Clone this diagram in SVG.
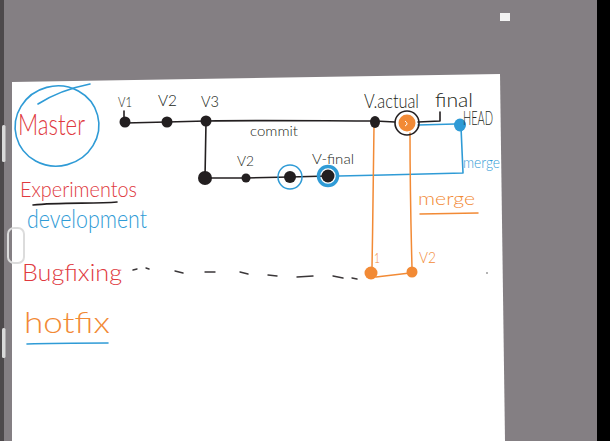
<svg xmlns="http://www.w3.org/2000/svg" width="610" height="441" viewBox="0 0 610 441">
<style>
.ink{fill:none;stroke:#231f20;stroke-width:1.6;stroke-linecap:round;stroke-linejoin:round}
.blue{fill:none;stroke:#2f9bd6;stroke-width:1.6;stroke-linecap:round;stroke-linejoin:round}
.orng{fill:none;stroke:#f28a35;stroke-width:1.5;stroke-linecap:round;stroke-linejoin:round}
.dot{fill:#231f20}
.t{font-family:"Lato","Liberation Sans",Arial,sans-serif;font-weight:300}
.tk{fill:#231f20}
.tr{fill:#e0393e}
.tb{fill:#2f9bd6}
.to{fill:#f28a35}
</style>
<!-- background -->
<rect x="0" y="0" width="610" height="441" fill="#847f83"/>
<rect x="0" y="0" width="4" height="441" fill="#4d494b"/>
<rect x="597" y="0" width="13" height="441" fill="#000"/>
<rect x="500" y="13" width="10" height="8" fill="#f2f2f2"/>
<polygon points="12,82 500,74 505,441 12,441" fill="#ffffff"/>
<rect x="2" y="125" width="3.5" height="37" rx="1.5" fill="#d9d9d9"/>
<rect x="2" y="328" width="3.5" height="30" rx="1.5" fill="#d9d9d9"/>
<rect x="8" y="228" width="16" height="35" rx="6" fill="none" stroke="#dcdcdc" stroke-width="2"/>

<!-- left labels -->
<g id="label-master">
<ellipse class="blue" cx="57" cy="126" rx="42" ry="40" transform="rotate(-15 57 126)"/>
<path class="blue" d="M38,104 C52,95 70,88 90,84"/>
<text class="t tr" x="18" y="135" font-size="30" textLength="67" lengthAdjust="spacingAndGlyphs">Master</text>
</g>
<g id="label-experimentos">
<text class="t tr" x="20" y="197" font-size="22" textLength="117" lengthAdjust="spacingAndGlyphs">Experimentos</text>
<path class="ink" d="M33,205 C60,202 95,204 117,202"/>
</g>
<g id="label-development">
<text class="t tb" x="27" y="228" font-size="25" textLength="120" lengthAdjust="spacingAndGlyphs">development</text>
</g>
<g id="label-bugfixing">
<text class="t tr" x="22" y="281" font-size="24" textLength="100" lengthAdjust="spacingAndGlyphs">Bugfixing</text>
</g>
<g id="label-hotfix">
<text class="t to" x="24" y="333" font-size="30" textLength="86" lengthAdjust="spacingAndGlyphs">hotfix</text>
<path class="blue" d="M27,344 C55,343 85,343 108,343"/>
</g>

<!-- connectors -->
<g id="connectors">
<path class="ink" d="M125,123 L167,122 L206,121 C260,120 330,121 375,121 L395,122"/>
<path class="ink" d="M418,122 L440,121 L440,112"/>
<path class="ink" d="M206,122 L205,178 L246,178 L290,177 L328,176"/>
<path class="blue" d="M418,125 L455,124"/>
<path class="blue" d="M339,176 C380,175 430,174 463,173 L461,127"/>
<path class="orng" d="M374,126 C373,170 373,220 372,268"/>
<path class="orng" d="M410,133 C410,180 411,230 412,268"/>
<path class="orng" d="M376,277 L410,273"/>
<path class="orng" d="M420,214 L478,213"/>
<g stroke="#3a3638" stroke-width="1.4" stroke-linecap="round" fill="none">
<path d="M133,270 L137,269"/><path d="M146,268 L149,269"/>
<path d="M175,271 L183,273"/><path d="M205,272 L215,272"/>
<path d="M240,272 L248,274"/><path d="M268,275 L277,276"/>
<path d="M297,277 L313,276"/><path d="M333,276 L343,278"/>
<path d="M352,278 L357,279"/>
</g>
<circle cx="487" cy="273" r="0.8" fill="#555"/>
</g>

<!-- master commits -->
<g id="node-v1"><circle class="dot" cx="125" cy="122" r="5.5"/><path class="ink" d="M124,117 L124,111"/><text class="t tk" x="118" y="107" font-size="14" textLength="14" lengthAdjust="spacingAndGlyphs">V1</text></g>
<g id="node-v2"><circle class="dot" cx="167" cy="122" r="5.5"/><text class="t tk" x="158" y="106" font-size="15" textLength="19" lengthAdjust="spacingAndGlyphs">V2</text></g>
<g id="node-v3"><circle class="dot" cx="206" cy="121" r="5.5"/><text class="t tk" x="201" y="107" font-size="15" textLength="18" lengthAdjust="spacingAndGlyphs">V3</text></g>
<g id="label-commit"><text class="t tk" x="250" y="136" font-size="13" textLength="48" lengthAdjust="spacingAndGlyphs">commit</text></g>
<g id="node-vactual"><ellipse class="dot" cx="375" cy="122" rx="5" ry="6"/><text class="t tk" x="364" y="108" font-size="19" textLength="55" lengthAdjust="spacingAndGlyphs">V.actual</text></g>
<g id="node-merge-master"><circle cx="407" cy="123" r="8.5" fill="#f28a35"/><circle cx="407" cy="123" r="12" fill="none" stroke="#231f20" stroke-width="1.6"/><path d="M405,121 Q409,124 405,126" stroke="#fff" stroke-width="1" fill="none"/></g>
<g id="label-final"><text class="t tk" x="435" y="107" font-size="19" textLength="38" lengthAdjust="spacingAndGlyphs">final</text></g>
<g id="node-head"><ellipse cx="460" cy="125" rx="6" ry="6.5" fill="#2f9bd6"/><text class="t tk" x="463" y="125" font-size="19" textLength="30" lengthAdjust="spacingAndGlyphs">HEAD</text></g>

<!-- development branch -->
<g id="node-dev-start"><circle class="dot" cx="205" cy="178" r="7"/></g>
<g id="node-dev-v2"><circle class="dot" cx="246" cy="178" r="4.5"/><text class="t tk" x="237" y="166" font-size="14" textLength="17" lengthAdjust="spacingAndGlyphs">V2</text></g>
<g id="node-dev-3"><circle class="dot" cx="290" cy="177" r="6"/><circle cx="290" cy="177" r="12" fill="none" stroke="#2f9bd6" stroke-width="1.5"/></g>
<g id="node-dev-final"><circle class="dot" cx="328" cy="176" r="6.5"/><circle cx="328" cy="176" r="9.5" fill="none" stroke="#2f9bd6" stroke-width="3.5"/><text class="t tk" x="312" y="164" font-size="14" textLength="42" lengthAdjust="spacingAndGlyphs">V-final</text></g>
<g id="label-merge-blue"><text class="t tb" x="463" y="168" font-size="16" textLength="37" lengthAdjust="spacingAndGlyphs">merge</text></g>

<!-- hotfix branch -->
<g id="node-hotfix-1"><circle cx="371" cy="273" r="6.5" fill="#f28a35"/><text class="t to" x="374" y="263" font-size="14" textLength="6" lengthAdjust="spacingAndGlyphs">1</text></g>
<g id="node-hotfix-v2"><circle cx="412" cy="272" r="5.5" fill="#f28a35"/><text class="t to" x="419" y="263" font-size="15" textLength="17" lengthAdjust="spacingAndGlyphs">V2</text></g>
<g id="label-merge-orange"><text class="t to" x="418" y="205" font-size="17" textLength="57" lengthAdjust="spacingAndGlyphs">merge</text></g>
</svg>
